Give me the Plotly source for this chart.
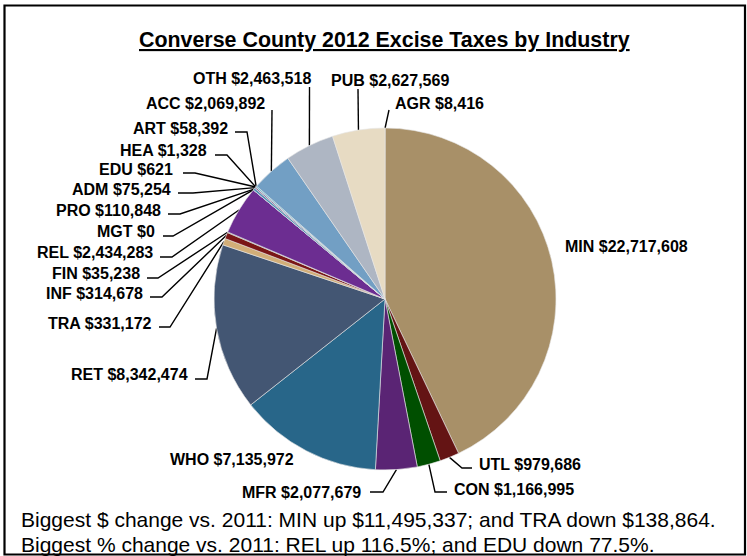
import math
import plotly.graph_objects as go

# ---------------- data ----------------
categories = ["AGR", "MIN", "UTL", "CON", "MFR", "WHO", "RET", "TRA", "INF", "FIN",
              "REL", "MGT", "PRO", "ADM", "EDU", "HEA", "ART", "ACC", "OTH", "PUB"]
values = [8416, 22717608, 979686, 1166995, 2077679, 7135972, 8342474, 331172, 314678, 35238,
          2434283, 0, 110848, 75254, 621, 1328, 58392, 2069892, 2463518, 2627569]
title_text = "Converse County 2012 Excise Taxes by Industry"
note_lines = [
    "Biggest $ change vs. 2011: MIN up $11,495,337; and TRA down $138,864.",
    "Biggest % change vs. 2011: REL up 116.5%; and EDU down 77.5%.",
]

# ---------------- styling / layout ----------------
slice_colors = ["#C8B48E", "#A89068", "#641414", "#004F00", "#5A2474", "#286689", "#435673",
                "#D2AE78", "#7A1616", "#3F7A4A", "#6C2D91", "#2E7DA8", "#4F8FB5", "#8B6F9E",
                "#C0504D", "#9BBB59", "#4BACC6", "#729FC4", "#AEB6C3", "#E7DBC3"]
W, H = 747, 556
CX, CY, R = 385, 299, 171
FONT = "Liberation Sans, Arial, sans-serif"

# label placement: (x, y, xanchor, leader elbow points from the label side)
label_layout = {
    "OTH": (313, 78, "right", [(309.5, 87)]),
    "PUB": (329, 80, "left", [(358, 89)]),
    "AGR": (393, 103, "left", [(389, 110)]),
    "ACC": (267, 103, "right", [(272, 110)]),
    "ART": (230, 128, "right", [(235, 132), (247, 132)]),
    "HEA": (209, 150, "right", [(215, 155), (227, 155)]),
    "EDU": (175, 169, "right", [(183, 173), (195, 173)]),
    "ADM": (173, 189, "right", [(178, 193), (193, 193)]),
    "PRO": (163, 210, "right", [(168, 214), (180, 214)]),
    "MGT": (157, 231, "right", [(163, 236), (173, 236)]),
    "REL": (155, 252, "right", [(160, 257), (172, 257)]),
    "FIN": (142, 273, "right", [(147, 278), (158, 278)]),
    "INF": (145, 293, "right", [(150, 297), (162, 297)]),
    "TRA": (154, 323, "right", [(159, 327), (170, 327)]),
    "RET": (190, 374, "right", [(195, 379), (207, 379)]),
    "WHO": (296, 459, "right", []),
    "MFR": (363, 492, "right", [(370, 492), (383, 492)]),
    "CON": (452, 489, "left", [(447, 492), (435, 492)]),
    "UTL": (477, 464, "left", [(472, 468), (462, 468)]),
    "MIN": (563, 246, "left", []),
}

total = float(sum(values))

fig = go.Figure()

fig.add_trace(go.Pie(
    labels=categories, values=values, sort=False, direction="clockwise", rotation=0,
    marker=dict(colors=slice_colors, line=dict(color="#E6E6E6", width=0.6)),
    textinfo="none", hoverinfo="skip", showlegend=False,
    domain=dict(x=[(CX - R) / W, (CX + R) / W], y=[(H - CY - R) / H, (H - CY + R) / H]),
))

# leader lines: end at the slice mid-angle on the pie edge (computed from the data)
lx, ly = [], []
cum = 0.0
anchors = {}
for cat, v in zip(categories, values):
    mid = (cum + v / 2.0) / total * 2 * math.pi
    anchors[cat] = (CX + R * math.sin(mid), CY - R * math.cos(mid))
    cum += v

annotations = []
for cat, v in zip(categories, values):
    x, y, anc, pts = label_layout[cat]
    annotations.append(dict(
        x=x, y=y, xref="x", yref="y", xanchor=anc, yanchor="middle",
        text="<b>%s $%s</b>" % (cat, format(v, ",")), showarrow=False,
        font=dict(family=FONT, size=16, color="#000000"),
    ))
    if pts:
        path = list(pts) + [anchors[cat]]
        for px, py in path:
            lx.append(px)
            ly.append(py)
        lx.append(None)
        ly.append(None)

fig.add_trace(go.Scatter(x=lx, y=ly, mode="lines", line=dict(color="#000000", width=1.4),
                         hoverinfo="skip", showlegend=False))

annotations.append(dict(
    x=384, y=40, xref="x", yref="y", xanchor="center", yanchor="middle",
    text="<b><u>%s</u></b>" % title_text, showarrow=False,
    font=dict(family=FONT, size=21.4, color="#000000"),
))
for i, line in enumerate(note_lines):
    annotations.append(dict(
        x=19, y=519 + i * 25, xref="x", yref="y", xanchor="left", yanchor="middle",
        text=line, showarrow=False,
        font=dict(family=FONT, size=21, color="#000000"),
    ))

fig.update_layout(
    width=W, height=H, margin=dict(l=0, r=0, t=0, b=0),
    paper_bgcolor="white", plot_bgcolor="white",
    xaxis=dict(range=[0, W], visible=False, fixedrange=True),
    yaxis=dict(range=[H, 0], visible=False, fixedrange=True),
    annotations=annotations,
    shapes=[dict(type="rect", xref="x", yref="y", x0=4.5, y0=5.5, x1=745, y1=554.5,
                 line=dict(color="#000000", width=2.2), layer="above")],
)

fig.write_html("out.html", config={"displayModeBar": False},
               post_script="document.body.style.margin='0';document.body.style.overflow='hidden';")
